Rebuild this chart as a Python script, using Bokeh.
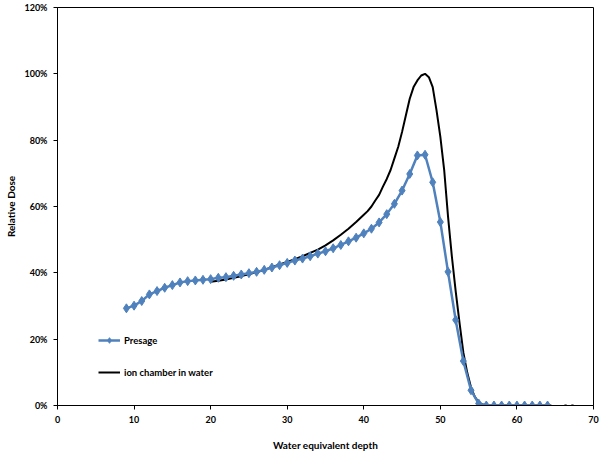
import numpy as np
from bokeh.plotting import figure
from bokeh.models import NumeralTickFormatter, FixedTicker, Range1d, Legend, LegendItem
from bokeh.embed import file_html
from bokeh.resources import INLINE

# Presage (blue diamonds), depth vs relative dose (%)
presage_depth = [9, 10, 11, 12, 13, 14, 15, 16, 17, 18, 19, 20, 21, 22, 23, 24, 25, 26, 27, 28,
                 29, 30, 31, 32, 33, 34, 35, 36, 37, 38, 39, 40, 41, 42, 43, 44, 45, 46, 47, 48,
                 49, 50, 51, 52, 53, 54, 55, 56, 57, 58, 59, 60, 61, 62, 63, 64]
presage_dose = [29.3, 30.1, 31.5, 33.5, 34.5, 35.5, 36.3, 37.1, 37.5, 37.7, 37.9, 38.1, 38.5, 38.7,
                39.1, 39.5, 39.9, 40.3, 40.9, 41.6, 42.3, 43.0, 43.7, 44.3, 45.0, 45.8, 46.5, 47.4,
                48.4, 49.5, 50.6, 51.9, 53.3, 55.2, 57.7, 60.8, 64.8, 69.8, 75.4, 75.6, 67.3, 55.3,
                40.3, 25.8, 13.4, 4.6, 0.6, 0.0, 0.0, 0.0, 0.0, 0.0, 0.0, 0.0, 0.0, 0.0]

# Ion chamber in water (black line)
ion_depth = [20, 21, 22, 23, 24, 25, 26, 27, 28, 29, 30, 31, 32, 33, 34, 35, 36, 37, 38, 39,
             40, 40.5, 41, 41.5, 42, 42.5, 43, 43.5, 44, 44.5, 45, 45.5, 46, 46.5, 47, 47.5,
             48, 48.5, 49, 49.5, 50, 50.5, 51, 51.5, 52, 52.5, 53, 53.5, 54, 54.5, 55, 55.5,
             56, 57, 58, 59, 60, 61, 62, 63, 64, 64.5, None, 66.2, 66.5, None, 67.1, 67.4]
ion_dose = [37.3, 37.6, 38.0, 38.5, 39.0, 39.6, 40.2, 40.9, 41.7, 42.5, 43.3, 44.1, 45.0, 46.0,
            47.0, 48.3, 49.8, 51.5, 53.3, 55.3, 57.5, 58.6, 60.0, 61.8, 63.5, 66.0, 68.3, 71.0,
            74.5, 78.0, 82.5, 87.5, 92.5, 96.0, 98.0, 99.5, 100.0, 99.0, 96.0, 89.0, 81.0, 71.0,
            57.0, 45.0, 34.5, 25.0, 16.0, 10.0, 5.5, 2.6, 1.0, 0.3, 0.1, 0.0, 0.0, 0.0, 0.0, 0.0,
            0.0, 0.0, 0.0, 0.0, None, 0.0, 0.0, None, 0.0, 0.0]

x_ticks = [0, 10, 20, 30, 40, 50, 60, 70]
y_ticks = [0, 0.2, 0.4, 0.6, 0.8, 1.0, 1.2]

FONT = "Lato"

p = figure(width=600, height=453, output_backend="svg", toolbar_location=None,
           x_range=Range1d(0, 70), y_range=Range1d(0, 1.2),
           min_border_left=57, min_border_right=7, min_border_top=7, min_border_bottom=45)
p.background_fill_color = "white"
p.border_fill_color = "white"
p.outline_line_color = "black"
p.outline_line_width = 1
p.xgrid.visible = False
p.ygrid.visible = False

ion_x = np.array([np.nan if v is None else v for v in ion_depth], dtype=float)
ion_y = np.array([np.nan if v is None else v / 100.0 for v in ion_dose], dtype=float)
pres_y = [v / 100.0 for v in presage_dose]

r_ion = p.line(ion_x, ion_y, line_color="black", line_width=2)
r_pl = p.line(presage_depth, pres_y, line_color="#4F81BD", line_width=2.5)
r_pm = p.scatter(presage_depth, pres_y, marker="diamond", size=9,
                 fill_color="#4F81BD", line_color="#4F81BD")

p.xaxis.ticker = FixedTicker(ticks=x_ticks)
p.yaxis.ticker = FixedTicker(ticks=y_ticks)
p.yaxis.formatter = NumeralTickFormatter(format="0%")
for ax in (p.xaxis[0], p.yaxis[0]):
    ax.axis_line_color = "black"
    ax.major_tick_line_color = "black"
    ax.major_tick_out = 4
    ax.major_tick_in = 0
    ax.minor_tick_line_color = None
    ax.major_label_text_font = FONT
    ax.major_label_text_font_style = "bold"
    ax.major_label_text_font_size = "9px"
    ax.major_label_text_color = "black"
    ax.axis_label_text_font = FONT
    ax.axis_label_text_font_style = "bold"
    ax.axis_label_text_font_size = "10px"
    ax.axis_label_text_color = "black"
p.xaxis.major_label_standoff = 6
p.yaxis.major_label_standoff = 6
p.xaxis.axis_label = "Water equivalent depth"
p.yaxis.axis_label = "Relative Dose"
p.xaxis.axis_label_standoff = 13
p.yaxis.axis_label_standoff = 4

legend = Legend(items=[LegendItem(label="Presage", renderers=[r_pl, r_pm]),
                       LegendItem(label="ion chamber in water", renderers=[r_ion])],
                location=(41, 26), border_line_color=None, background_fill_alpha=0,
                padding=0, margin=0, spacing=18, glyph_width=22, glyph_height=14,
                label_height=14, label_standoff=4,
                label_text_font=FONT, label_text_font_style="bold",
                label_text_font_size="9.5px", label_text_color="black")
p.add_layout(legend)

open("out.html", "w").write(file_html(p, INLINE))
